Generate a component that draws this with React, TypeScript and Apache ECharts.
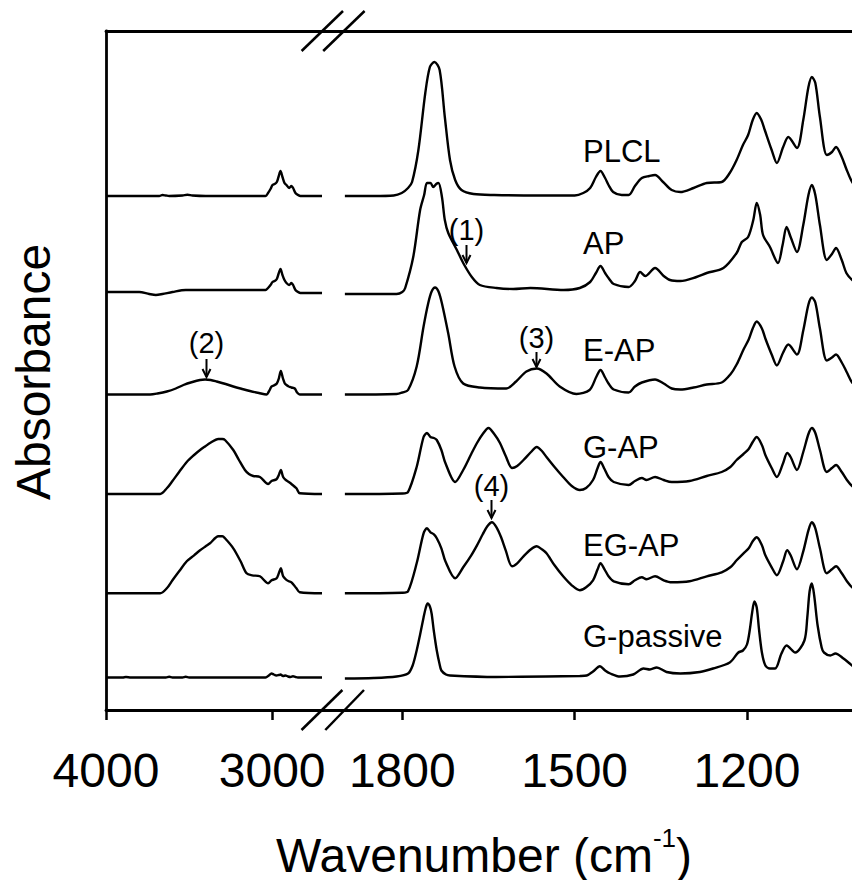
import React, { useEffect, useRef } from 'react';
import * as echarts from 'echarts';

// ---- DATA (wavenumber cm^-1, absorbance above each curve's own baseline, a.u.) ----
const sampleNames = ['PLCL', 'AP', 'E-AP', 'G-AP', 'EG-AP', 'G-passive'];
const offsets = [5.14, 4.17, 3.155, 2.16, 1.167, 0.325];

const highTicks = [3000, 4000];
const lowTicks = [1200, 1500, 1800];

const plclHigh: [number, number][] = [[4000,0],[3800,0],[3680,0],[3660,0.01],[3640,0.005],[3620,0],[3540,0.005],[3510,0.012],[3480,0.005],[3400,0],[3040,0],[3025,0.03],[3010,0.07],[2998,0.11],[2985,0.12],[2972,0.14],[2962,0.19],[2950,0.25],[2938,0.19],[2926,0.13],[2914,0.11],[2898,0.08],[2884,0.1],[2874,0.08],[2860,0.03],[2844,0.01],[2830,0],[2700,0]];
const plclLow: [number, number][] = [[1900,0],[1850,0],[1815,0.005],[1801,0.03],[1790,0.08],[1783,0.14],[1772,0.46],[1760,1.03],[1752,1.29],[1744,1.34],[1735,1.26],[1726,0.79],[1717,0.36],[1708,0.16],[1697,0.06],[1676,0.02],[1640,0.01],[1560,0.005],[1500,0.005],[1485,0.03],[1473,0.08],[1463,0.19],[1455,0.25],[1447,0.18],[1441,0.11],[1433,0.04],[1418,0.01],[1406,0.01],[1395,0.1],[1383,0.18],[1370,0.2],[1360,0.21],[1346,0.14],[1331,0.06],[1316,0.04],[1293,0.08],[1270,0.13],[1244,0.14],[1230,0.23],[1218,0.36],[1207,0.51],[1198,0.61],[1190,0.76],[1183,0.83],[1175,0.76],[1169,0.66],[1157,0.46],[1148,0.33],[1137,0.49],[1128,0.59],[1113,0.48],[1102,0.76],[1093,1.09],[1087,1.19],[1081,1.13],[1073,0.79],[1061,0.41],[1052,0.44],[1045,0.49],[1035,0.39],[1027,0.27],[1017,0.14],[1005,0.06],[990,0.03]];

const apHigh: [number, number][] = [[4000,0.01],[3800,0.01],[3740,-0.01],[3700,-0.02],[3660,-0.01],[3600,0.01],[3520,0.03],[3300,0.03],[3100,0.03],[3040,0.03],[3025,0.05],[3010,0.08],[2998,0.11],[2985,0.12],[2972,0.14],[2962,0.19],[2950,0.24],[2938,0.18],[2926,0.13],[2914,0.1],[2898,0.08],[2884,0.1],[2874,0.08],[2860,0.03],[2844,0.01],[2830,0],[2700,0]];
const apLow: [number, number][] = [[1900,-0.01],[1810,-0.01],[1800,0.01],[1795,0.05],[1781,0.36],[1769,0.83],[1762,0.98],[1757,1.1],[1751,1.1],[1746,1.06],[1741,1.09],[1737,1.1],[1731,0.96],[1726,0.73],[1720,0.6],[1705,0.43],[1694,0.3],[1679,0.16],[1665,0.08],[1636,0.05],[1607,0.04],[1577,0.05],[1519,0.03],[1491,0.05],[1473,0.11],[1463,0.2],[1455,0.27],[1447,0.2],[1441,0.15],[1432,0.09],[1406,0.06],[1395,0.12],[1386,0.21],[1377,0.17],[1360,0.25],[1345,0.17],[1334,0.13],[1316,0.12],[1288,0.16],[1270,0.2],[1241,0.25],[1218,0.4],[1209,0.51],[1198,0.56],[1189,0.73],[1183,0.9],[1177,0.78],[1172,0.58],[1160,0.46],[1146,0.3],[1138,0.48],[1131,0.66],[1124,0.56],[1113,0.41],[1102,0.68],[1093,0.98],[1087,1.08],[1081,0.98],[1073,0.68],[1061,0.33],[1052,0.39],[1045,0.45],[1035,0.33],[1027,0.2],[1017,0.13],[1005,0.08],[990,0.05]];

const eapHigh: [number, number][] = [[4000,0],[3760,0],[3734,0],[3690,0.01],[3634,0.03],[3580,0.06],[3534,0.095],[3480,0.125],[3434,0.145],[3404,0.15],[3370,0.145],[3334,0.13],[3280,0.105],[3234,0.08],[3180,0.055],[3134,0.035],[3080,0.015],[3034,0],[3020,0.03],[3004,0.08],[2990,0.09],[2972,0.11],[2960,0.16],[2948,0.235],[2935,0.16],[2924,0.11],[2914,0.095],[2900,0.08],[2884,0.07],[2864,0.06],[2850,0.02],[2834,0],[2700,0]];
const eapLow: [number, number][] = [[1900,0],[1810,0.005],[1800,0.02],[1790,0.045],[1775,0.28],[1763,0.68],[1755,0.91],[1749,1.03],[1743,1.07],[1737,1.03],[1731,0.91],[1720,0.61],[1709,0.28],[1694,0.11],[1665,0.07],[1619,0.06],[1602,0.13],[1584,0.23],[1566,0.26],[1549,0.21],[1526,0.08],[1497,0.005],[1474,0.045],[1462,0.18],[1455,0.245],[1447,0.17],[1441,0.11],[1432,0.05],[1406,0.02],[1395,0.08],[1383,0.12],[1360,0.15],[1345,0.11],[1331,0.06],[1316,0.05],[1293,0.07],[1270,0.1],[1244,0.12],[1229,0.2],[1218,0.3],[1206,0.45],[1197,0.55],[1190,0.66],[1183,0.73],[1174,0.66],[1168,0.56],[1157,0.4],[1148,0.29],[1137,0.42],[1128,0.5],[1113,0.4],[1102,0.64],[1093,0.9],[1087,0.97],[1081,0.92],[1073,0.66],[1061,0.34],[1052,0.37],[1045,0.4],[1035,0.32],[1026,0.22],[1017,0.12],[1005,0.06],[990,0.03]];

const gapHigh: [number, number][] = [[4000,0],[3780,0],[3674,0],[3634,0.057],[3600,0.13],[3560,0.22],[3514,0.32],[3470,0.39],[3434,0.44],[3400,0.48],[3374,0.51],[3324,0.55],[3300,0.55],[3284,0.54],[3234,0.44],[3200,0.34],[3164,0.24],[3140,0.2],[3114,0.18],[3074,0.17],[3024,0.1],[3004,0.13],[2974,0.147],[2960,0.19],[2948,0.24],[2934,0.17],[2918,0.14],[2900,0.12],[2884,0.1],[2854,0.057],[2834,0.007],[2700,0]];
const gapLow: [number, number][] = [[1900,0],[1800,0.005],[1790,0.02],[1775,0.27],[1763,0.57],[1757,0.61],[1751,0.57],[1745,0.56],[1740,0.54],[1732,0.44],[1725,0.31],[1708,0.12],[1694,0.24],[1680,0.4],[1670,0.51],[1660,0.6],[1650,0.66],[1640,0.6],[1630,0.51],[1620,0.38],[1609,0.26],[1600,0.28],[1589,0.34],[1576,0.42],[1566,0.47],[1557,0.43],[1549,0.37],[1535,0.27],[1520,0.17],[1505,0.08],[1491,0.04],[1480,0.06],[1468,0.14],[1460,0.26],[1455,0.32],[1448,0.25],[1441,0.17],[1432,0.12],[1406,0.09],[1395,0.13],[1383,0.16],[1375,0.14],[1360,0.17],[1345,0.14],[1331,0.12],[1300,0.13],[1270,0.18],[1244,0.22],[1229,0.27],[1218,0.34],[1206,0.4],[1197,0.45],[1190,0.52],[1183,0.57],[1174,0.49],[1168,0.39],[1157,0.26],[1148,0.17],[1137,0.31],[1130,0.41],[1124,0.37],[1113,0.24],[1102,0.42],[1093,0.6],[1087,0.66],[1081,0.61],[1073,0.44],[1061,0.22],[1052,0.26],[1045,0.29],[1035,0.22],[1026,0.14],[1017,0.08],[1005,0.04],[990,0.02]];

const egapHigh: [number, number][] = [[4000,0],[3780,0],[3674,0],[3634,0.05],[3600,0.13],[3560,0.22],[3514,0.32],[3470,0.38],[3434,0.43],[3400,0.47],[3374,0.5],[3324,0.57],[3300,0.57],[3284,0.55],[3234,0.45],[3190,0.32],[3154,0.2],[3120,0.18],[3074,0.17],[3024,0.1],[3004,0.13],[2974,0.15],[2960,0.2],[2948,0.25],[2934,0.17],[2918,0.14],[2900,0.12],[2884,0.11],[2854,0.05],[2834,0.01],[2700,0]];
const egapLow: [number, number][] = [[1900,0],[1800,0.005],[1790,0.02],[1775,0.3],[1763,0.6],[1757,0.65],[1751,0.61],[1745,0.59],[1740,0.55],[1732,0.45],[1725,0.32],[1708,0.15],[1694,0.26],[1680,0.38],[1670,0.48],[1660,0.59],[1652,0.67],[1644,0.71],[1636,0.66],[1628,0.56],[1620,0.43],[1609,0.27],[1600,0.3],[1589,0.37],[1576,0.44],[1566,0.47],[1557,0.44],[1549,0.4],[1535,0.28],[1520,0.17],[1505,0.08],[1491,0.03],[1480,0.06],[1468,0.13],[1460,0.24],[1455,0.3],[1448,0.24],[1441,0.17],[1432,0.12],[1406,0.09],[1395,0.13],[1383,0.16],[1375,0.14],[1360,0.17],[1345,0.13],[1331,0.11],[1300,0.12],[1270,0.17],[1244,0.21],[1229,0.26],[1218,0.33],[1206,0.4],[1197,0.45],[1190,0.52],[1183,0.56],[1174,0.48],[1168,0.38],[1157,0.26],[1148,0.18],[1137,0.32],[1130,0.43],[1124,0.38],[1113,0.24],[1102,0.42],[1093,0.63],[1087,0.71],[1081,0.65],[1073,0.45],[1061,0.2],[1052,0.24],[1045,0.27],[1035,0.2],[1026,0.12],[1017,0.06],[1005,0.03],[990,0.02]];

const gpHigh: [number, number][] = [[4000,0],[3900,0],[3880,0.005],[3850,0],[3640,0],[3620,0.008],[3600,0],[3540,0],[3520,0.008],[3500,0],[3040,0],[3020,0.02],[3004,0.04],[2990,0.03],[2975,0.02],[2960,0.025],[2950,0.03],[2935,0.015],[2920,0.02],[2905,0.01],[2890,0.005],[2875,0.012],[2860,0.005],[2845,0],[2700,0]];
const gpLow: [number, number][] = [[1900,-0.01],[1850,-0.005],[1810,0.01],[1790,0.04],[1782,0.12],[1775,0.27],[1769,0.43],[1763,0.6],[1759,0.7],[1756,0.74],[1752,0.71],[1749,0.64],[1745,0.46],[1740,0.27],[1735,0.13],[1732,0.07],[1724,0.03],[1717,0.02],[1637,0.005],[1550,0.01],[1491,0.015],[1479,0.02],[1468,0.06],[1456,0.113],[1447,0.07],[1438,0.04],[1421,0.01],[1398,0.03],[1380,0.09],[1369,0.08],[1357,0.1],[1340,0.055],[1316,0.04],[1282,0.055],[1259,0.09],[1230,0.15],[1215,0.25],[1207,0.27],[1200,0.33],[1195,0.48],[1191,0.65],[1187,0.76],[1183,0.7],[1179,0.48],[1174,0.25],[1168,0.12],[1160,0.09],[1151,0.09],[1140,0.24],[1131,0.32],[1116,0.25],[1100,0.37],[1095,0.6],[1091,0.86],[1087,0.94],[1083,0.82],[1077,0.52],[1070,0.3],[1066,0.25],[1055,0.22],[1046,0.24],[1032,0.19],[1017,0.12],[1005,0.07],[990,0.04]];

const highData = [plclHigh, apHigh, eapHigh, gapHigh, egapHigh, gpHigh];
const lowData = [plclLow, apLow, eapLow, gapLow, egapLow, gpLow];

const annotations = ['(1)', '(2)', '(3)', '(4)'];

// ---- layout ----
const FONT = '"Liberation Sans", Arial, Helvetica, sans-serif';
const INK = '#000';
const labelY = [151, 243, 350, 447, 545, 636];
const annPos = [
  { x: 466.5, y: 230, ay1: 245, ay2: 263 },
  { x: 206.5, y: 343, ay1: 359, ay2: 377 },
  { x: 536.5, y: 337.5, ay1: 352, ay2: 367 },
  { x: 491.5, y: 485.5, ay1: 500, ay2: 518 },
];

export default function App() {
  const ref = useRef<HTMLDivElement>(null);
  useEffect(() => {
    if (!ref.current) return;
    const chart = echarts.init(ref.current, null, { renderer: 'svg' });

    const axisLineStyle = { color: INK, width: 2.8 };
    const baseX = (grid: number, min: number, max: number, ticks: number[]) => ({
      type: 'value', gridIndex: grid, min, max, inverse: true,
      axisLine: { show: true, onZero: false, lineStyle: axisLineStyle },
      axisTick: { show: true, inside: false, length: 10, customValues: ticks, lineStyle: { color: INK, width: 2.5 } },
      axisLabel: {
        show: true, customValues: ticks, fontSize: 48, color: INK, fontFamily: FONT, margin: 36,
        formatter: (v: number) => String(v),
      },
      splitLine: { show: false },
    });
    const topX = (grid: number, min: number, max: number) => ({
      type: 'value', gridIndex: grid, min, max, inverse: true, position: 'top',
      axisLine: { show: true, onZero: false, lineStyle: axisLineStyle },
      axisTick: { show: false }, axisLabel: { show: false }, splitLine: { show: false },
    });
    const yAx = (grid: number, show: boolean) => ({
      type: 'value', gridIndex: grid, min: 0, max: 6.79,
      axisLine: { show, onZero: false, lineStyle: axisLineStyle },
      axisTick: { show: false }, axisLabel: { show: false }, splitLine: { show: false },
    });

    const series: any[] = [];
    sampleNames.forEach((name, i) => {
      series.push({
        type: 'line', name, xAxisIndex: 0, yAxisIndex: 0,
        data: highData[i].map(([w, h]) => [w, offsets[i] + h]),
        showSymbol: false, symbol: 'none', smooth: 0.3,
        lineStyle: { color: INK, width: 2.4 },
      });
      series.push({
        type: 'line', name, xAxisIndex: 1, yAxisIndex: 1,
        data: lowData[i].map(([w, h]) => [w, offsets[i] + h]),
        showSymbol: false, symbol: 'none', smooth: 0.3,
        lineStyle: { color: INK, width: 2.4 },
      });
    });

    const txt = (text: string, x: number, y: number, size: number, align = 'left', rotation = 0) => ({
      type: 'text', x, y, rotation,
      style: {
        text, fill: INK, fontSize: size, fontFamily: FONT,
        align, textAlign: align, verticalAlign: 'middle', textVerticalAlign: 'middle',
      },
    });
    const ln = (x1: number, y1: number, x2: number, y2: number, w = 2.5) => ({
      type: 'line', shape: { x1, y1, x2, y2 }, style: { stroke: INK, lineWidth: w },
    });

    const graphic: any[] = [
      ln(301.5, 730, 342.4, 690), ln(325.3, 730, 364, 690),
      ln(301.6, 51, 343, 11), ln(323.2, 51, 364.6, 11),
      ...sampleNames.map((n, i) => txt(n, 583, labelY[i], 31)),
      ...annotations.map((a, i) => txt(a, annPos[i].x, annPos[i].y, 29, 'center')),
      ...annPos.map((p) => ln(p.x, p.ay1, p.x, p.ay2, 2)),
      ...annPos.map((p) => ({
        type: 'polyline',
        shape: { points: [[p.x - 4, p.ay2 - 8], [p.x, p.ay2], [p.x + 4, p.ay2 - 8]] },
        style: { stroke: INK, lineWidth: 2, fill: null },
      })),
      txt('Absorbance', 33, 372, 48, 'center', Math.PI / 2),
      {
        type: 'text', x: 484, y: 855,
        style: {
          text: '{m|Wavenumber (cm}{s|-1}{m|)}',
          fill: INK, align: 'center', textAlign: 'center', verticalAlign: 'middle', textVerticalAlign: 'middle',
          rich: {
            m: { fontSize: 48, fontFamily: FONT, lineHeight: 60, fill: INK },
            s: { fontSize: 26, fontFamily: FONT, lineHeight: 24, verticalAlign: 'top', fill: INK },
          },
        },
      },
    ];

    chart.setOption({
      animation: false,
      backgroundColor: '#fff',
      grid: [
        { left: 106, top: 31, width: 226, bottom: 170, containLabel: false, outerBoundsMode: 'none' },
        { left: 332, top: 31, width: 587.3, bottom: 170, containLabel: false, outerBoundsMode: 'none' },
      ],
      xAxis: [
        baseX(0, 2640, 4000, highTicks),
        baseX(1, 900, 1922.4, lowTicks),
        topX(0, 2640, 4000),
        topX(1, 900, 1922.4),
      ],
      yAxis: [yAx(0, true), yAx(1, false)],
      series,
      graphic,
    } as any);
    return () => chart.dispose();
  }, []);
  return (
    <div
      ref={ref}
      style={{ position: 'absolute', left: 0, top: 0, width: 852, height: 880, background: '#fff' }}
    />
  );
}
